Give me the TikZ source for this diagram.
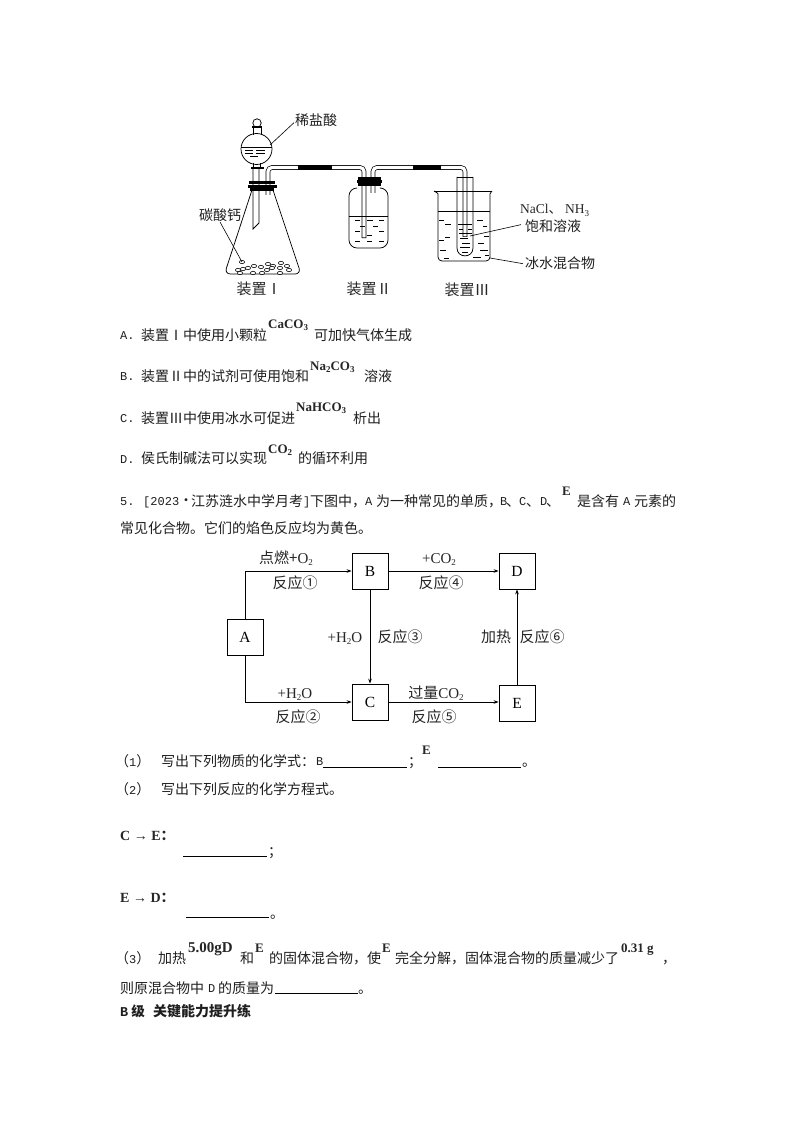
\documentclass[tikz,border=0pt]{standalone}
\usepackage{fontspec}
\setmainfont{Noto Sans CJK SC}
\newfontfamily\ser{Liberation Serif}
\newfontfamily\mon{Liberation Mono}
\usetikzlibrary{arrows.meta}
\newcommand{\tx}[4]{\node[txt] (#1) at (#2,#3) {#4};}
\newcommand{\fm}[4]{\node[fmla] (#1) at (#2,#3) {#4};}
\newcommand{\dg}[4]{\node[dlab] (#1) at (#2,#3) {#4};}
\newcommand{\sbs}[1]{\raisebox{-2.5pt}{\fontsize{9}{9}\selectfont #1}}
\newcommand{\lt}[1]{{\mon\fontsize{12}{12}\selectfont #1}}
\begin{document}
\begin{tikzpicture}[x=1pt,y=-1pt,
  txt/.style={anchor=base west,inner sep=0pt,font=\fontsize{14}{14}\selectfont,text=black!88},
  fmla/.style={anchor=base west,inner sep=0pt,font=\ser\bfseries\fontsize{13}{13}\selectfont,text=black!85},
  dlab/.style={anchor=base,inner sep=0pt,font=\fontsize{15}{15}\selectfont,text=black!85},
  box/.style={draw=black,line width=0.8pt,fill=white,minimum width=36pt,minimum height=36pt,inner sep=0pt,font=\ser\fontsize{15.5}{15.5}\selectfont},
  conn/.style={draw=black,line width=0.7pt,-{Stealth[length=5pt,width=3.6pt]}},
  app/.style={draw=black,line width=0.75pt},
  leader/.style={draw=black,line width=0.6pt},
  dsh/.style={draw=black,line width=0.75pt},
  blank/.style={draw=black,line width=0.7pt},
  tubeo/.style={draw=black,line width=4.6pt,rounded corners=4pt},
  tubei/.style={draw=white,line width=3.2pt,rounded corners=4pt}]
\useasboundingbox (0,0) rectangle (794,1123);
\fill[white] (0,0) rectangle (794,1123);

% ---- flask
\draw[app,rounded corners=6pt] (252,190) -- (224.5,274) -- (301,274) -- (273,190);
% funnel stem
\draw[app] (253,167) -- (253,229) -- (259,223) -- (259,167);
\fill[black] (251,167) rectangle (264,169);
% funnel
\draw[app] (253,127) -- (253,135) (261,127) -- (261,135);
\draw[app] (253,163) -- (253,167) (260,163) -- (260,167);
\draw[app] (257,123) circle[radius=4.2pt];
\fill[black] (252,126) rectangle (262,128);
\draw[app] (256.5,149) circle[radius=15.5pt];
\draw[app] (241.3,147) -- (271.7,147);
\foreach \a/\b/\c in {245/253/150,256/265/150,245/253/153,256/265/153,250/258/156.5}
  \draw[dsh] (\a,\c) -- (\b,\c);
% tube I to II
\draw[tubeo] (268,195) -- (268,167.5) -- (364,167.5) -- (364,238);
\draw[tubei] (268,196) -- (268,167.5) -- (364,167.5) -- (364,237.4);
% tube II to III
\draw[tubeo] (373,193) -- (373,167.5) -- (465,167.5) -- (465,237);
\draw[tubei] (373,194) -- (373,167.5) -- (465,167.5) -- (465,236.4);
% rubber
\fill[black] (298,165.3) rectangle (332,169.7);
\fill[black] (413,165.3) rectangle (441,169.7);
% stopper I
\fill[black] (249,181) rectangle (275,184.4);
\fill[black] (248,184.8) rectangle (277,187.6);
\fill[black] (250,187.9) rectangle (274,191.5);
% bottle II
\draw[app,rounded corners=8pt] (357,188) -- (349,188) -- (349,248) -- (388,248) -- (388,188) -- (381,188);
\draw[app] (349,216) -- (388,216);
\foreach \a/\b/\c in {355/360/220,367/373/220,379/384/220,360/365/226,373/378/226,355/360/231,367/372/235,379/384/231,355/360/241,367/372/241,379/384/241}
  \draw[dsh] (\a,\c) -- (\b,\c);
\fill[black] (358,177) rectangle (381,179.7);
\fill[black] (357,180) rectangle (382,182.8);
\fill[black] (358,183) rectangle (381,186.5);
% beaker
\draw[app] (434,191) -- (492,191);
\draw[app,rounded corners=4pt] (434,191) .. controls (437,192) and (438,194) .. (438,198) -- (438,261) -- (490,261) -- (490,198) .. controls (490,194) and (491,192) .. (492,191);
\draw[app] (438,211) -- (490,211);
\foreach \a/\b/\c in {439/444/220,445/451/224,477/483/220,483/487/226,445/450/237,439/444/240,484/489/236,440/446/250,480/488/250,444/449/258,473/481/257,485/489/255,478/484/243}
  \draw[dsh] (\a,\c) -- (\b,\c);
% test tube
\draw[app] (457,177) -- (457,248) .. controls (457,258.5) and (473,258.5) .. (473,248) -- (473,177);
\draw[app] (457,177) -- (473,177);
\foreach \a/\b/\c in {458/472/224,459/463/229,468/472/229,459/472/233,460/468/238,462/470/243,460/470/247,462/468/252}
  \draw[dsh] (\a,\c) -- (\b,\c);
% pebbles
\foreach \a/\b in {238/270,243/269,248/268,254/266,261/267,268/264,273/266,281/263,280/268,289/270,287/266,267/270,253/273,262/273,240/273,242/262,280/273,272/268}
  \draw[app,line width=0.6pt,fill=white] (\a,\b) ellipse[x radius=2.6pt,y radius=1.7pt];

% apparatus labels
\tx{lxi}{295}{126}{稀盐酸}
\tx{ltan}{199}{221}{碳酸钙}
\dg{lz1}{259}{294}{装置Ⅰ}
\dg{lz2}{369}{294}{装置Ⅱ}
\dg{lz3}{467}{295}{装置Ⅲ}
\node[anchor=base west,inner sep=0pt,font=\fontsize{13.5}{13.5}\selectfont,text=black!85] (lna) at (520,214) {{\ser NaCl}、 {\ser NH\sbs{3}}};
\tx{lbao}{525}{232}{饱和溶液}
\tx{lbing}{525}{268}{冰水混合物}
\coordinate (pxi) at (270,145);
\coordinate (ptan) at (242,262);
\coordinate (pbao) at (470,236);
\coordinate (pbing) at (490,258);
\draw[leader] (lxi.west) ++(-1,2) -- (pxi);
\draw[leader] (ltan.south) -- (ptan);
\draw[leader] (lbao.west) ++(-4,-2) -- (pbao);
\draw[leader] (lbing.west) ++(-2,1) -- (pbing);

% options
\tx{a0}{120}{339}{\lt{A.}}
\tx{a1}{141}{340}{装置Ⅰ中使用小颗粒}
\fm{a2}{268}{328}{CaCO\sbs{3}}
\tx{a3}{314}{340}{可加快气体生成}
\tx{b0}{120}{380}{\lt{B.}}
\tx{b1}{141}{381}{装置Ⅱ中的试剂可使用饱和}
\fm{b2}{310}{370}{Na\sbs{2}CO\sbs{3}}
\tx{b3}{364}{381}{溶液}
\tx{c0}{120}{422}{\lt{C.}}
\tx{c1}{141}{423}{装置Ⅲ中使用冰水可促进}
\fm{c2}{296}{411}{NaHCO\sbs{3}}
\tx{c3}{353}{423}{析出}
\tx{d0}{120}{463}{\lt{D.}}
\tx{d1}{141}{463}{侯氏制碱法可以实现}
\fm{d2}{268}{453}{CO\sbs{2}}
\tx{d3}{298}{463}{的循环利用}

% question 5
\tx{q0}{120}{505}{\lt{5.}}
\tx{q1}{143}{505}{\lt{[2023}}
\tx{q2}{179}{505}{·}
\tx{q3}{191}{506}{江苏涟水中学月考}
\tx{q4}{303}{505}{\lt{]}}
\tx{q5}{310}{506}{下图中，}
\tx{q6}{365}{505}{\lt{A}}
\tx{q7}{376}{506}{为一种常见的单质，}
\tx{q8}{500}{505}{\lt{B}}
\tx{q9}{506}{506}{、}
\tx{q10}{519}{505}{\lt{C}}
\tx{q11}{526}{506}{、}
\tx{q12}{540}{505}{\lt{D}}
\tx{q13}{546}{506}{、}
\fm{q14}{562}{495}{E}
\tx{q15}{577}{506}{是含有}
\tx{q16}{623}{505}{\lt{A}}
\tx{q17}{634}{506}{元素的}
\tx{q18}{120}{533}{常见化合物。它们的焰色反应均为黄色。}

% flow chart
\node[box] (A) at (245,637) {A};
\node[box] (B) at (370,571) {B};
\node[box] (D) at (517,571) {D};
\node[box] (C) at (370,702) {C};
\node[box] (E) at (517,703) {E};
\draw[conn] (A.north) |- (B.west);
\draw[conn] (B.east) -- (D.west);
\draw[conn] (B.south) -- (C.north);
\draw[conn] (A.south) |- (C.west);
\draw[conn] (C.east) -- (C.east -| E.west);
\draw[conn] (E.north) -- (D.south);
\dg{f1}{286}{563}{点燃+{\ser O\sbs{2}}}
\dg{f2}{295}{588}{反应①}
\dg{f3}{439}{563}{{\ser +CO\sbs{2}}}
\dg{f4}{441}{588}{反应④}
\dg{f5}{345}{642}{{\ser +H\sbs{2}O}}
\dg{f6}{400}{642}{反应③}
\dg{f7}{496}{642}{加热}
\dg{f8}{542}{642}{反应⑥}
\dg{f9}{295}{698}{{\ser +H\sbs{2}O}}
\dg{f10}{298}{722}{反应②}
\dg{f11}{436}{698}{过量{\ser CO\sbs{2}}}
\dg{f12}{434}{722}{反应⑤}

% part (1),(2)
\tx{p1}{115}{766}{（\lt{1}）}
\tx{p2}{161}{766}{写出下列物质的化学式：}
\tx{p3}{316}{765}{\lt{B}}
\coordinate (u1a) at (323,767); \coordinate (u1b) at (407,767);
\draw[blank] (u1a) -- (u1b);
\tx{p4}{408}{766}{；}
\fm{p5}{422}{754}{E}
\coordinate (u2a) at (438,767); \coordinate (u2b) at (521,767);
\draw[blank] (u2a) -- (u2b);
\tx{p6}{522}{766}{。}
\tx{p7}{115}{794}{（\lt{2}）}
\tx{p8}{161}{794}{写出下列反应的化学方程式。}
\node[fmla,font=\ser\bfseries\fontsize{14}{14}\selectfont] (p9) at (120,840) {C → E{\rmfamily ：}};
\coordinate (u3a) at (183,856); \coordinate (u3b) at (267,856);
\draw[blank] (u3a) -- (u3b);
\tx{p10}{268}{856}{；}
\node[fmla,font=\ser\bfseries\fontsize{14}{14}\selectfont] (p11) at (120,902) {E → D{\rmfamily ：}};
\coordinate (u4a) at (186,917); \coordinate (u4b) at (269,917);
\draw[blank] (u4a) -- (u4b);
\tx{p12}{270}{918}{。}

% part (3)
\tx{r1}{115}{963}{（\lt{3}）}
\tx{r2}{158}{963}{加热}
\node[fmla,font=\ser\bfseries\fontsize{15}{15}\selectfont] (r3) at (188,952) {5.00gD};
\tx{r4}{240}{963}{和}
\fm{r5}{255}{952}{E}
\tx{r6}{269}{963}{的固体混合物，使}
\fm{r7}{382}{952}{E}
\tx{r8}{395}{963}{完全分解，固体混合物的质量减少了}
\fm{r9}{621}{952}{0.31 g}
\tx{r10}{662}{963}{，}
\tx{r11}{120}{993}{则原混合物中}
\tx{r12}{208}{992}{\lt{D}}
\tx{r13}{218}{993}{的质量为}
\coordinate (u5a) at (275,993); \coordinate (u5b) at (358,993);
\draw[blank] (u5a) -- (u5b);
\tx{r14}{358}{993}{。}
\node[txt,font=\bfseries\fontsize{13.5}{13.5}\selectfont] (r15) at (120,1016) {{\mon B} 级};
\node[txt,font=\bfseries\fontsize{14}{14}\selectfont] (r16) at (153,1016) {关键能力提升练};
\end{tikzpicture}
\end{document}
